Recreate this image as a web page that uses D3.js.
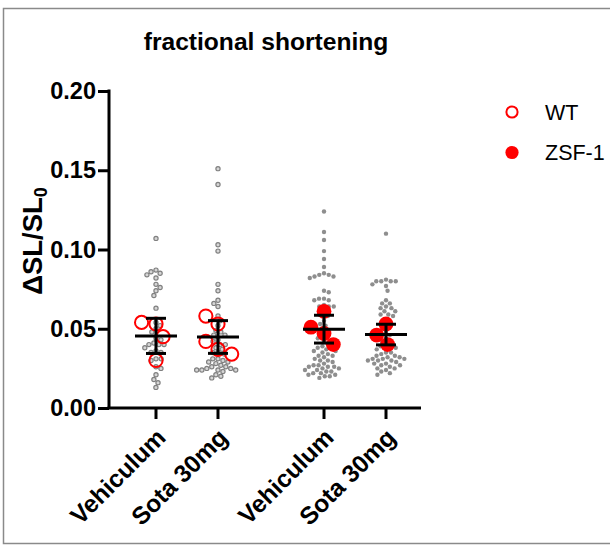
<!DOCTYPE html>
<html>
<head>
<meta charset="utf-8">
<script src="https://cdn.jsdelivr.net/npm/d3@7"></script>
<style>
  html, body { margin: 0; padding: 0; background: #fff; }
  svg { display: block; font-family: "Liberation Sans", Arial, sans-serif; }
</style>
</head>
<body>
<svg id="chart" width="610" height="546"></svg>
<script>
// ---- data -------------------------------------------------------------
const genotypes = ["WT", "ZSF-1"];
const treatments = ["Vehiculum", "Sota 30mg"];
const yTicks = [0, 0.05, 0.10, 0.15, 0.20];
const titleText = "fractional shortening";

// individual cell measurements (ΔSL/SL0)
const cellsWTVeh = [0.107, 0.087, 0.086, 0.085, 0.084, 0.082, 0.078, 0.076, 0.074, 0.071,
  0.063, 0.054, 0.052, 0.050, 0.048, 0.044, 0.043, 0.041, 0.040, 0.040, 0.040, 0.038,
  0.036, 0.035, 0.035, 0.031, 0.031, 0.030, 0.026, 0.025, 0.021, 0.018, 0.016, 0.013];
const cellsWTSota = [0.151, 0.141, 0.103, 0.099, 0.078, 0.074, 0.068, 0.066, 0.064, 0.058,
  0.055, 0.052, 0.049, 0.048, 0.046, 0.046, 0.043, 0.042, 0.040, 0.040, 0.038, 0.037,
  0.035, 0.034, 0.035, 0.031, 0.031, 0.030, 0.029, 0.029, 0.028, 0.027, 0.026, 0.026,
  0.024, 0.024, 0.024, 0.023, 0.024, 0.025, 0.025, 0.021, 0.020, 0.019];
const cellsZSFVeh = [0.124, 0.111, 0.106, 0.099, 0.094, 0.089, 0.085, 0.084, 0.084, 0.083,
  0.082, 0.083, 0.073, 0.074, 0.069, 0.068, 0.069, 0.068, 0.064, 0.064, 0.064, 0.065,
  0.060, 0.059, 0.058, 0.055, 0.053, 0.052, 0.050, 0.048, 0.046, 0.045, 0.044, 0.042,
  0.040, 0.039, 0.038, 0.038, 0.037, 0.036, 0.036, 0.035, 0.034, 0.033, 0.033, 0.032,
  0.031, 0.030, 0.030, 0.029, 0.028, 0.027, 0.027, 0.026, 0.026, 0.026, 0.025, 0.025,
  0.024, 0.024, 0.023, 0.023, 0.022, 0.022, 0.021, 0.021, 0.020, 0.020, 0.019];
const cellsZSFSota = [0.110, 0.081, 0.080, 0.080, 0.080, 0.080, 0.078, 0.077, 0.074, 0.068,
  0.066, 0.066, 0.064, 0.063, 0.063, 0.061, 0.061, 0.059, 0.059, 0.058, 0.056, 0.054,
  0.052, 0.050, 0.048, 0.046, 0.044, 0.042, 0.039, 0.039, 0.039, 0.038, 0.037, 0.035,
  0.035, 0.034, 0.033, 0.032, 0.032, 0.031, 0.031, 0.033, 0.031, 0.030, 0.030, 0.029,
  0.030, 0.028, 0.028, 0.027, 0.027, 0.026, 0.025, 0.025, 0.024, 0.023, 0.022, 0.021];

// per-animal means (listed in the order they are placed in the swarm)
const animalsWTVeh = [0.053, 0.054, 0.045, 0.030];
const animalsWTSota = [0.053, 0.058, 0.037, 0.034, 0.042];
const animalsZSFVeh = [0.061, 0.047, 0.051, 0.040];
const animalsZSFSota = [0.053, 0.046, 0.040];

const groups = [
  { genotype: "WT", treatment: "Vehiculum", cells: cellsWTVeh, animals: animalsWTVeh },
  { genotype: "WT", treatment: "Sota 30mg", cells: cellsWTSota, animals: animalsWTSota },
  { genotype: "ZSF-1", treatment: "Vehiculum", cells: cellsZSFVeh, animals: animalsZSFVeh },
  { genotype: "ZSF-1", treatment: "Sota 30mg", cells: cellsZSFSota, animals: animalsZSFSota }
];

// ---- layout -----------------------------------------------------------
const svg = d3.select("#chart");
const axisX = 109, axisBottom = 408, axisTop = 91, axisRight = 421;

svg.append("rect")
  .attr("x", 3.5).attr("y", 8.5).attr("width", 640).attr("height", 535)
  .attr("fill", "none").attr("stroke", "#8a8a8a").attr("stroke-width", 1.5);

const y = d3.scaleLinear().domain([0, 0.2]).range([axisBottom, axisTop]);
const xOuter = d3.scaleBand().domain(genotypes).range([125, 417])
  .paddingInner(0.262).paddingOuter(0);
const xInner = d3.scalePoint().domain(treatments).range([0, xOuter.bandwidth()]).padding(0.5);
const xPos = g => xOuter(g.genotype) + xInner(g.treatment);

// simple beeswarm: each point takes the free horizontal slot closest to the centre
function swarm(values, diam, keepOrder) {
  let items = values.map(v => ({ v, py: y(v) }));
  if (!keepOrder) items = items.sort((a, b) => a.py - b.py);
  const placed = [];
  let flip = 1;
  items.forEach(it => {
    const near = placed.filter(p => Math.abs(p.py - it.py) < diam);
    const cands = [0];
    near.forEach(p => {
      const dx = Math.sqrt(diam * diam - (p.py - it.py) ** 2);
      cands.push(p.dx + dx + 1e-6, p.dx - dx - 1e-6);
    });
    const ok = cands.filter(c => near.every(p => Math.hypot(p.dx - c, p.py - it.py) >= diam - 1e-3));
    ok.sort((a, b) => (Math.abs(a) - Math.abs(b)) || (flip * (a - b)));
    it.dx = ok[0];
    if (it.dx !== 0) flip = -flip;
    placed.push(it);
  });
  return placed;
}

const gPlot = svg.append("g");

groups.forEach(g => {
  const cx = xPos(g);
  const isWT = g.genotype === "WT";
  // cells
  gPlot.append("g").selectAll("circle").data(swarm(g.cells, isWT ? 5.2 : 5.0)).join("circle")
    .attr("cx", d => cx + d.dx).attr("cy", d => d.py)
    .attr("r", isWT ? 2.1 : 2.2)
    .attr("fill", isWT ? "#d6d6d6" : "#8e8e8e")
    .attr("stroke", isWT ? "#808080" : "none")
    .attr("stroke-width", 1.2);
  // animal means
  gPlot.append("g").selectAll("circle").data(swarm(g.animals, 14.5, true)).join("circle")
    .attr("cx", d => cx + d.dx).attr("cy", d => d.py)
    .attr("r", isWT ? 6.6 : 7.4)
    .attr("fill", isWT ? "none" : "#ff0000")
    .attr("stroke", isWT ? "#ff0000" : "none")
    .attr("stroke-width", 2);
});

// mean ± SD of the animal means
groups.forEach(g => {
  const cx = xPos(g);
  const m = d3.mean(g.animals), sd = d3.deviation(g.animals);
  const eb = gPlot.append("g").attr("stroke", "#000").attr("stroke-width", 3).attr("fill", "none");
  eb.append("line").attr("x1", cx).attr("x2", cx).attr("y1", y(m + sd)).attr("y2", y(m - sd));
  eb.append("line").attr("x1", cx - 10).attr("x2", cx + 10).attr("y1", y(m + sd)).attr("y2", y(m + sd));
  eb.append("line").attr("x1", cx - 10).attr("x2", cx + 10).attr("y1", y(m - sd)).attr("y2", y(m - sd));
  eb.append("line").attr("x1", cx - 21).attr("x2", cx + 21).attr("y1", y(m)).attr("y2", y(m));
});

// ---- axes -------------------------------------------------------------
const yAxis = svg.append("g").attr("transform", `translate(${axisX},0)`)
  .call(d3.axisLeft(y).tickValues(yTicks).tickFormat(d3.format(".2f")).tickSize(11).tickPadding(2));
yAxis.select(".domain").attr("d", `M0,${axisTop - 1.5}V${axisBottom}`);
yAxis.selectAll("path, line").attr("stroke", "#000").attr("stroke-width", 3);
yAxis.selectAll("text").attr("font-size", 23.5).attr("font-weight", "bold")
  .attr("font-family", "Liberation Sans, Arial, sans-serif").attr("fill", "#000");

const xAxisG = svg.append("g").attr("transform", `translate(0,${axisBottom})`);
xAxisG.append("line").attr("x1", axisX - 1.5).attr("x2", axisRight)
  .attr("stroke", "#000").attr("stroke-width", 3);
xAxisG.selectAll(".xt").data(groups).join("line").attr("class", "xt")
  .attr("x1", d => xPos(d)).attr("x2", d => xPos(d)).attr("y1", 0).attr("y2", 11)
  .attr("stroke", "#000").attr("stroke-width", 3);
xAxisG.selectAll(".xl").data(groups).join("text").attr("class", "xl")
  .attr("transform", d => `translate(${xPos(d) + 5},${25}) rotate(-45)`)
  .attr("text-anchor", "end").attr("dy", "0.35em")
  .attr("font-size", 24.5).attr("font-weight", "bold").attr("fill", "#000")
  .text(d => d.treatment);

// y axis title with subscript
const yTitle = svg.append("text")
  .attr("transform", `translate(42,241) rotate(-90)`)
  .attr("text-anchor", "middle").attr("font-size", 27.5).attr("font-weight", "bold").attr("fill", "#000");
yTitle.append("tspan").text("ΔSL/SL");
yTitle.append("tspan").attr("font-size", 18).attr("dy", "0.3em").text("0");

// chart title
svg.append("text").attr("x", 266).attr("y", 50).attr("text-anchor", "middle")
  .attr("font-size", 24.6).attr("font-weight", "bold").attr("fill", "#000").text(titleText);

// ---- legend -----------------------------------------------------------
const legend = svg.append("g");
const legendRows = legend.selectAll("g").data(genotypes).join("g")
  .attr("transform", (d, i) => `translate(512,${112 + i * 40.5})`);
legendRows.append("circle").attr("r", (d, i) => i === 0 ? 5.6 : 6.6)
  .attr("fill", (d, i) => i === 0 ? "none" : "#ff0000")
  .attr("stroke", (d, i) => i === 0 ? "#ff0000" : "none").attr("stroke-width", 2);
legendRows.append("text").attr("x", 33).attr("dy", "0.36em")
  .attr("font-size", 21.5).attr("fill", "#000").text(d => d);
</script>
</body>
</html>
